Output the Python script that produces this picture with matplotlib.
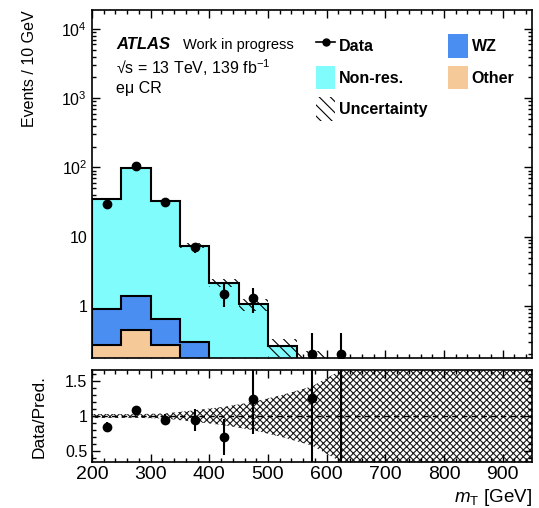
import numpy as np
import matplotlib
matplotlib.use("Agg")
import matplotlib.pyplot as plt
from matplotlib.lines import Line2D
from matplotlib.patches import Patch
from matplotlib.ticker import (FixedLocator, MultipleLocator, LogLocator,
                               NullFormatter, FuncFormatter)

plt.rcParams["font.family"] = ["Liberation Sans", "DejaVu Sans"]
plt.rcParams["mathtext.fontset"] = "custom"
plt.rcParams["mathtext.rm"] = "Liberation Sans"
plt.rcParams["mathtext.it"] = "Liberation Sans:italic"
plt.rcParams["mathtext.bf"] = "Liberation Sans:bold"
plt.rcParams["hatch.linewidth"] = 0.8

# ---- binning: m_T in 50 GeV bins, contents in events / 10 GeV ----
bin_edges = np.arange(200, 951, 50)
other  = np.array([0.27, 0.45, 0.27, 0.12, 0.05, 0.02, 0.02, 0.01, 0.005, 0, 0, 0, 0, 0, 0])
wz     = np.array([0.64, 0.96, 0.38, 0.18, 0.08, 0.05, 0.01, 0.00, 0.005, 0, 0, 0, 0, 0, 0])
nonres = np.array([34.1, 96.6, 32.35, 7.10, 2.02, 0.98, 0.23, 0.15, 0.0, 0, 0, 0, 0, 0, 0])
mc_unc = np.array([1.0, 2.6, 1.2, 0.60, 0.28, 0.21, 0.078, 0.067, 0.0065, 0, 0, 0, 0, 0, 0])
data   = np.array([29.5, 106.0, 31.3, 7.0, 1.5, 1.3, 0.0, 0.2, 0.2, 0, 0, 0, 0, 0, 0])

c_nonres = "#80fcfc"
c_wz = "#4a8ef2"
c_other = "#f6c999"

centers = 0.5 * (bin_edges[:-1] + bin_edges[1:])
events_per_bin = 5.0  # 50 GeV bin / 10 GeV normalisation
data_err = np.sqrt(data * events_per_bin) / events_per_bin

cum_other = other
cum_wz = other + wz
mc_total = other + wz + nonres

fig = plt.figure(figsize=(5.39, 5.08), dpi=100)
ax = fig.add_axes([92 / 539, 150 / 508, 440 / 539, 348 / 508])
rax = fig.add_axes([92 / 539, 46 / 508, 440 / 539, 92 / 508], sharex=ax)

base = 1e-3
# stacked histograms, drawn from the total downwards
for top, col in [(mc_total, c_nonres), (cum_wz, c_wz), (cum_other, c_other)]:
    ax.stairs(top, bin_edges, baseline=base, fill=True, facecolor=col,
              edgecolor="black", linewidth=1.5, zorder=2)

# total prediction uncertainty
ax.stairs(mc_total + mc_unc, bin_edges, baseline=mc_total - mc_unc, fill=True,
          facecolor="none", edgecolor="black", hatch="\\\\\\", linewidth=0, zorder=3)

# data
sel = data > 0
ax.errorbar(centers[sel], data[sel], yerr=data_err[sel], fmt="o", color="black",
            ms=6, elinewidth=1.5, capsize=0, zorder=5)

ax.set_yscale("log")
ax.set_xlim(200, 950)
ax.set_ylim(0.177, 1.88e4)


def log_label(v, pos):
    if np.isclose(v, 1):
        return "1"
    if np.isclose(v, 10):
        return "10"
    return r"$10^{%d}$" % int(round(np.log10(v)))


ax.yaxis.set_major_locator(FixedLocator([1, 10, 100, 1e3, 1e4]))
ax.yaxis.set_major_formatter(FuncFormatter(log_label))
ax.yaxis.set_minor_locator(LogLocator(base=10, subs=np.arange(2, 10), numticks=20))
ax.yaxis.set_minor_formatter(NullFormatter())
ax.set_ylabel("Events / 10 GeV", fontsize=11.5, loc="top")
ax.yaxis.set_label_coords(-0.126, 1.0)
ax.tick_params(axis="x", labelbottom=False)

# text block
ax.text(0.0545, 0.888, "ATLAS", transform=ax.transAxes, fontsize=12,
        fontweight="bold", fontstyle="italic")
ax.text(0.207, 0.888, "Work in progress", transform=ax.transAxes, fontsize=10.5)
ax.text(0.0545, 0.816, "\u221as = 13 TeV, 139 fb$^{-1}$", transform=ax.transAxes,
        fontsize=11.5)
ax.text(0.0545, 0.762, "e\u03bc CR", transform=ax.transAxes, fontsize=11.5)

handles = [
    Line2D([], [], color="black", marker="o", ms=5, lw=1.2),
    Patch(facecolor=c_nonres, edgecolor="none"),
    Patch(facecolor="none", edgecolor="black", hatch="\\\\\\", linewidth=0),
    Patch(facecolor=c_wz, edgecolor="none"),
    Patch(facecolor=c_other, edgecolor="none"),
]
labels = ["Data", "Non-res.", "Uncertainty", "WZ", "Other"]
ax.legend(handles, labels, ncol=2, loc="upper left", bbox_to_anchor=(0.509, 0.931),
          frameon=False, borderpad=0, borderaxespad=0, handlelength=1.2,
          handleheight=1.9, handletextpad=0.25, labelspacing=0.5,
          columnspacing=1.3, prop={"weight": "bold", "size": 11.5})

# ---- ratio panel ----
ratio = np.divide(data, mc_total, out=np.zeros_like(data), where=mc_total > 0)
ratio_err = np.divide(data_err, mc_total, out=np.zeros_like(data), where=mc_total > 0)
rel_unc = np.divide(mc_unc, mc_total, out=np.full_like(mc_total, 10.0), where=mc_total > 0)

xs = np.linspace(200, 950, 1501)
band = np.interp(xs, centers, rel_unc)
rax.fill_between(xs, 1 - band, 1 + band, facecolor="none", edgecolor="#1a1a1a",
                 hatch="xxxxx", linewidth=0, zorder=1)
rax.axhline(1.0, color="black", ls=(0, (4, 3)), lw=1.0, zorder=2)
rsel = data > 0
rax.errorbar(centers[rsel], ratio[rsel], yerr=ratio_err[rsel], fmt="o", color="black",
             ms=6, elinewidth=1.5, capsize=0, zorder=5)

rax.set_ylim(0.35, 1.65)
rax.yaxis.set_major_locator(FixedLocator([0.5, 1.0, 1.5]))
rax.yaxis.set_major_formatter(FuncFormatter(lambda v, p: "%g" % v))
rax.yaxis.set_minor_locator(MultipleLocator(0.1))
rax.set_ylabel("Data/Pred.", fontsize=12.5)
rax.yaxis.set_label_coords(-0.102, 0.5)
rax.set_xlabel(r"$m_{\mathrm{T}}$ [GeV]", fontsize=13.5, loc="right")
rax.xaxis.set_label_coords(1.0, -0.27)

rax.xaxis.set_major_locator(MultipleLocator(100))
rax.xaxis.set_minor_locator(MultipleLocator(20))

for a in (ax, rax):
    a.tick_params(which="both", direction="in", top=True, right=True, width=1.0)
    a.tick_params(which="major", length=6)
    a.tick_params(which="minor", length=3)
    a.tick_params(axis="y", labelsize=11.5, pad=3.5)
    for s in a.spines.values():
        s.set_linewidth(1.2)
rax.tick_params(axis="x", labelsize=14, pad=3)

fig.savefig("out.png", dpi=100)
